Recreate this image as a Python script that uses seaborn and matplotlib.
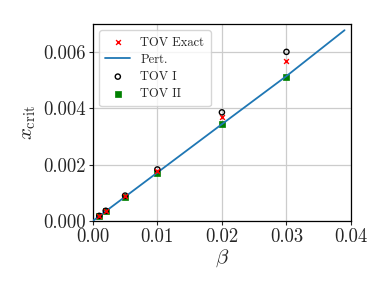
import matplotlib
matplotlib.use("Agg")
import matplotlib.pyplot as plt
import seaborn as sns
import pandas as pd

beta_pts = [0.001, 0.002, 0.005, 0.01, 0.02, 0.03]
tov_exact = [0.00017, 0.00035, 0.00088, 0.00178, 0.00371, 0.00568]
tov_one = [0.00018, 0.00036, 0.00090, 0.00183, 0.00386, 0.00601]
tov_two = [0.00017, 0.00034, 0.00086, 0.00172, 0.00344, 0.00513]
beta_line = [0.0, 0.01, 0.02, 0.03, 0.039]
pert_line = [0.0, 0.00172, 0.00344, 0.00515, 0.00678]

sns.set_style("ticks")
plt.rcParams["font.family"] = ["cmr10", "DejaVu Serif"]
plt.rcParams["mathtext.fontset"] = "cm"
plt.rcParams["axes.unicode_minus"] = False
plt.rcParams["axes.formatter.use_mathtext"] = True

fig = plt.figure(figsize=(3.9, 2.93), dpi=100)
ax = fig.add_axes([0.238, 0.246, 0.662, 0.672])

df_pts = pd.DataFrame({"beta": beta_pts, "exact": tov_exact, "one": tov_one, "two": tov_two})
df_line = pd.DataFrame({"beta": beta_line, "pert": pert_line})

sns.lineplot(data=df_line, x="beta", y="pert", ax=ax, color="#1f77b4", lw=1.3,
             label="Pert.", zorder=3)
sns.scatterplot(data=df_pts, x="beta", y="two", ax=ax, marker="s", color="green",
                s=18, edgecolor="green", linewidth=0.5, label="TOV II", zorder=2)
sns.scatterplot(data=df_pts, x="beta", y="one", ax=ax, marker="o", facecolor="none",
                edgecolor="black", s=14, linewidth=1.0, label="TOV I", zorder=4)
sns.scatterplot(data=df_pts, x="beta", y="exact", ax=ax, marker="x", color="red",
                s=12, linewidth=1.0, label="TOV Exact", zorder=5)

ax.set_xlim(0, 0.04)
ax.set_ylim(0, 0.007)
ax.set_xticks([0.0, 0.01, 0.02, 0.03, 0.04])
ax.set_yticks([0.0, 0.002, 0.004, 0.006])
ax.set_xticklabels(["0.00", "0.01", "0.02", "0.03", "0.04"])
ax.set_yticklabels(["0.000", "0.002", "0.004", "0.006"])
ax.tick_params(labelsize=13.5, length=3, width=0.8, pad=2)
ax.grid(True, color="#cccccc", lw=0.9)
ax.set_axisbelow(True)
ax.set_xlabel(r"$\beta$", fontsize=15, labelpad=1)
ax.set_ylabel(r"$x_{\mathrm{crit}}$", fontsize=15, labelpad=4)
for s in ax.spines.values():
    s.set_color("black")
    s.set_linewidth(0.9)

h, l = ax.get_legend_handles_labels()
order = ["TOV Exact", "Pert.", "TOV I", "TOV II"]
hd = dict(zip(l, h))
ax.legend([hd[k] for k in order], order, loc="upper left", fontsize=9,
          frameon=True, fancybox=True, framealpha=0.8, edgecolor="#cccccc",
          borderpad=0.5, handlelength=2.0, labelspacing=0.4)

fig.savefig("out.png", dpi=100)
